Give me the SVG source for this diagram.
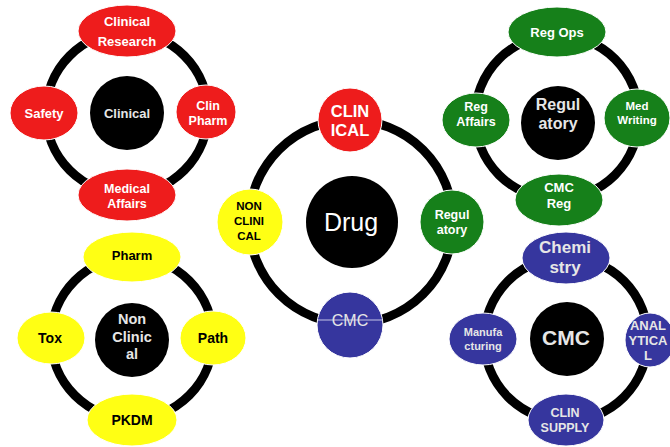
<svg xmlns="http://www.w3.org/2000/svg" width="670" height="447" viewBox="0 0 670 447">
<style>
text{font-family:"Liberation Sans",Arial,sans-serif;font-weight:bold;text-anchor:middle}
.ring{fill:none;stroke:#000;stroke-width:9}
.red{fill:#ee1c1c;stroke:#fff;stroke-width:1}
.grn{fill:#16801a;stroke:#fff;stroke-width:1}
.yel{fill:#ffff14;stroke:#fff;stroke-width:1}
.blu{fill:#36369e;stroke:#fff;stroke-width:1}
.hub{fill:#000}
.w{fill:#fff}
.lg{fill:#e6e6e6}
.k{fill:#000}
</style>
<rect width="670" height="447" fill="#fff"/>
<g id="connectors">
<circle class="ring" cx="127" cy="113" r="81"/>
<circle class="ring" cx="351" cy="222" r="102" stroke-width="10"/>
<circle class="ring" cx="557" cy="117" r="82"/>
<circle class="ring" cx="132" cy="338" r="81"/>
<circle class="ring" cx="566" cy="339" r="82"/>
</g>
<!-- Clinical cluster -->
<g id="clinical-hub"><circle class="hub" cx="127" cy="113" r="37"/><text class="lg" x="127" y="118" font-size="13">Clinical</text></g>
<g id="clinical-research"><ellipse class="red" cx="127" cy="31" rx="49" ry="26"/><text class="w" x="127" y="26" font-size="13">Clinical</text><text class="w" x="127" y="46" font-size="13">Research</text></g>
<g id="safety"><ellipse class="red" cx="44" cy="113" rx="34" ry="27"/><text class="w" x="44" y="118" font-size="13">Safety</text></g>
<g id="clin-pharm"><ellipse class="red" cx="206" cy="112" rx="30" ry="27"/><text class="w" x="208" y="110" font-size="12.5">Clin</text><text class="w" x="208" y="125" font-size="12.5">Pharm</text></g>
<g id="medical-affairs"><ellipse class="red" cx="127" cy="195" rx="49" ry="26"/><text class="w" x="127" y="193" font-size="12.5">Medical</text><text class="w" x="127" y="208" font-size="12.5">Affairs</text></g>
<!-- Drug cluster -->
<g id="drug"><circle class="hub" cx="352" cy="222" r="46"/><text class="w" x="351" y="231" font-size="25" style="font-weight:normal">Drug</text></g>
<g id="clinical"><circle class="red" cx="350" cy="120" r="32"/><text class="w" x="350" y="117" font-size="16.5">CLIN</text><text class="w" x="350" y="136" font-size="16.5">ICAL</text></g>
<g id="nonclinical"><circle class="yel" cx="250" cy="222" r="33"/><text class="k" x="249" y="210" font-size="11.5">NON</text><text class="k" x="249" y="225" font-size="11.5">CLINI</text><text class="k" x="249" y="240" font-size="11.5">CAL</text></g>
<g id="regulatory"><circle class="grn" cx="452" cy="222" r="32"/><text class="w" x="452" y="219" font-size="12.5">Regul</text><text class="w" x="452" y="234" font-size="12.5">atory</text></g>
<g id="cmc"><circle class="blu" cx="350" cy="325" r="33"/><line x1="318" y1="320" x2="383" y2="320" stroke="#c4c4e6" stroke-width="1"/><text class="lg" x="350" y="326" font-size="16" style="font-weight:normal">CMC</text></g>
<!-- Regulatory cluster -->
<g id="regulatory-hub"><circle class="hub" cx="558" cy="123" r="37"/><text class="lg" x="558" y="110" font-size="16">Regul</text><text class="lg" x="558" y="129" font-size="16">atory</text></g>
<g id="reg-ops"><ellipse class="grn" cx="557" cy="32" rx="49" ry="25"/><text class="w" x="557" y="37" font-size="13">Reg Ops</text></g>
<g id="reg-affairs"><ellipse class="grn" cx="476" cy="120" rx="34" ry="27"/><text class="w" x="476" y="111" font-size="12.5">Reg</text><text class="w" x="476" y="126" font-size="12.5">Affairs</text></g>
<g id="med-writing"><ellipse class="grn" cx="637" cy="118" rx="33" ry="29"/><text class="w" x="637" y="110" font-size="11.5">Med</text><text class="w" x="637" y="124" font-size="11.5">Writing</text></g>
<g id="cmc-reg"><ellipse class="grn" cx="559" cy="200" rx="44" ry="26"/><text class="w" x="559" y="192" font-size="13">CMC</text><text class="w" x="559" y="208" font-size="13">Reg</text></g>
<!-- Non Clinical cluster -->
<g id="nonclinical-hub"><circle class="hub" cx="132" cy="340" r="37"/><text class="lg" x="132" y="324" font-size="14.5">Non</text><text class="lg" x="132" y="342" font-size="14.5">Clinic</text><text class="lg" x="132" y="359" font-size="14.5">al</text></g>
<g id="pharm"><ellipse class="yel" cx="132" cy="257" rx="49" ry="25"/><text class="k" x="132" y="260" font-size="13">Pharm</text></g>
<g id="tox"><ellipse class="yel" cx="51" cy="338" rx="34" ry="26"/><text class="k" x="50" y="343" font-size="14">Tox</text></g>
<g id="path"><ellipse class="yel" cx="213" cy="338" rx="33" ry="27"/><text class="k" x="213" y="343" font-size="14">Path</text></g>
<g id="pkdm"><ellipse class="yel" cx="132" cy="420" rx="45" ry="26"/><text class="k" x="132" y="425" font-size="14">PKDM</text></g>
<!-- CMC cluster -->
<g id="cmc-hub"><circle class="hub" cx="567" cy="339" r="37"/><text class="lg" x="566" y="345" font-size="21">CMC</text></g>
<g id="chemistry"><ellipse class="blu" cx="566" cy="258" rx="44" ry="26"/><text class="lg" x="565" y="253" font-size="17">Chemi</text><text class="lg" x="565" y="273" font-size="17">stry</text></g>
<g id="manufacturing"><ellipse class="blu" cx="483" cy="339" rx="34" ry="26"/><text class="lg" x="483" y="336" font-size="11">Manufa</text><text class="lg" x="483" y="350" font-size="11">cturing</text></g>
<g id="analytical"><ellipse class="blu" cx="650" cy="340" rx="25" ry="27"/><text class="lg" x="648" y="330" font-size="13">ANAL</text><text class="lg" x="648" y="345" font-size="13">YTICA</text><text class="lg" x="648" y="360" font-size="13">L</text></g>
<g id="clin-supply"><ellipse class="blu" cx="566" cy="420" rx="38" ry="26"/><text class="lg" x="565" y="417" font-size="12.5">CLIN</text><text class="lg" x="565" y="432" font-size="12.5">SUPPLY</text></g>
</svg>
